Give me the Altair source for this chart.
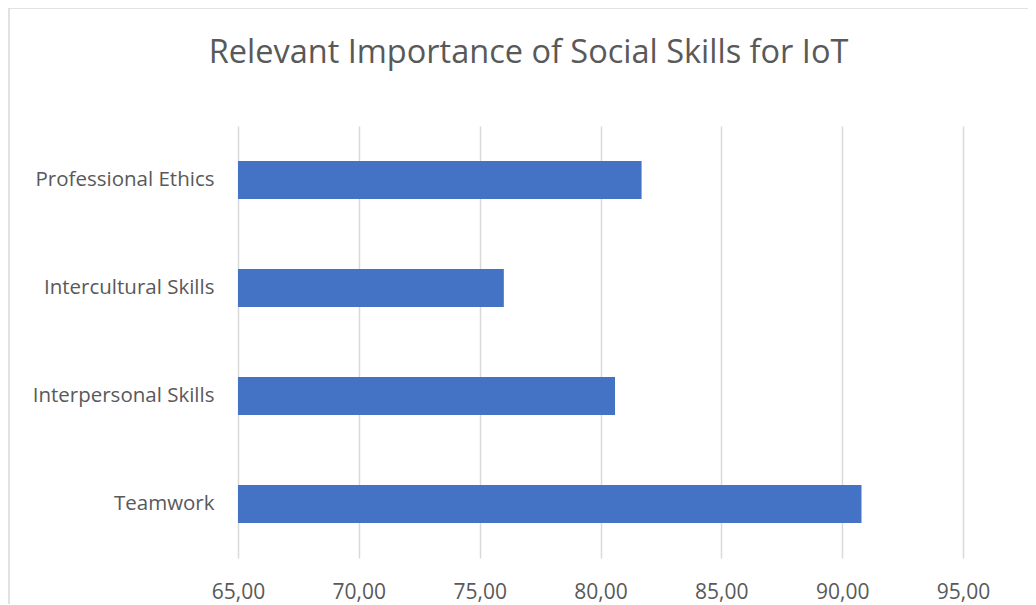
import altair as alt
import pandas as pd

categories = ["Professional Ethics", "Intercultural Skills", "Interpersonal Skills", "Teamwork"]
values = [81.7, 76.0, 80.6, 90.8]
x_ticks = [65, 70, 75, 80, 85, 90, 95]

df = pd.DataFrame({"skill": categories, "score": values})

FONT = "Open Sans"
GREY = "#595959"

frame = alt.Chart(pd.DataFrame({"a": [0]})).mark_rect(
    fill="transparent", stroke="#d9d9d9", strokeWidth=1.5, clip=False
).encode(
    x=alt.value(-229), x2=alt.value(900), y=alt.value(-118), y2=alt.value(700)
)

bars = alt.Chart(df).mark_bar(color="#4472C4", clip=True).encode(
    x=alt.X(
        "score:Q",
        scale=alt.Scale(domain=[65, 95], nice=False, zero=False),
        axis=alt.Axis(
            values=x_ticks,
            title=None,
            labelExpr="replace(format(datum.value, '.2f'), '.', ',')",
            labelFont=FONT, labelFontSize=21, labelColor=GREY,
            labelPadding=23, labelFlush=False, ticks=False, domain=False,
            grid=True, gridColor="#d9d9d9", gridWidth=1.5,
        ),
    ),
    y=alt.Y(
        "skill:N",
        sort=categories,
        scale=alt.Scale(paddingInner=0.65, paddingOuter=0.325),
        axis=alt.Axis(
            title=None, labelFont=FONT, labelFontSize=20.5, labelColor=GREY,
            labelPadding=24, labelLimit=400, ticks=False, domain=False,
        ),
    ),
)

chart = alt.layer(frame, bars).properties(
    width=725,
    height=432,
    autosize=alt.AutoSizeParams(type="none"),
    padding={"left": 230, "top": 118, "right": 65, "bottom": 46},
    title=alt.TitleParams(
        "Relevant Importance of Social Skills for IoT",
        font=FONT, fontSize=32.5, fontWeight="normal", color=GREY,
        anchor="middle", frame="group", dx=-72, offset=-62,
    ),
).configure(background="white").configure_view(stroke="transparent", strokeWidth=0)

chart.save("out.html", embed_options={"renderer": "svg", "actions": False})
